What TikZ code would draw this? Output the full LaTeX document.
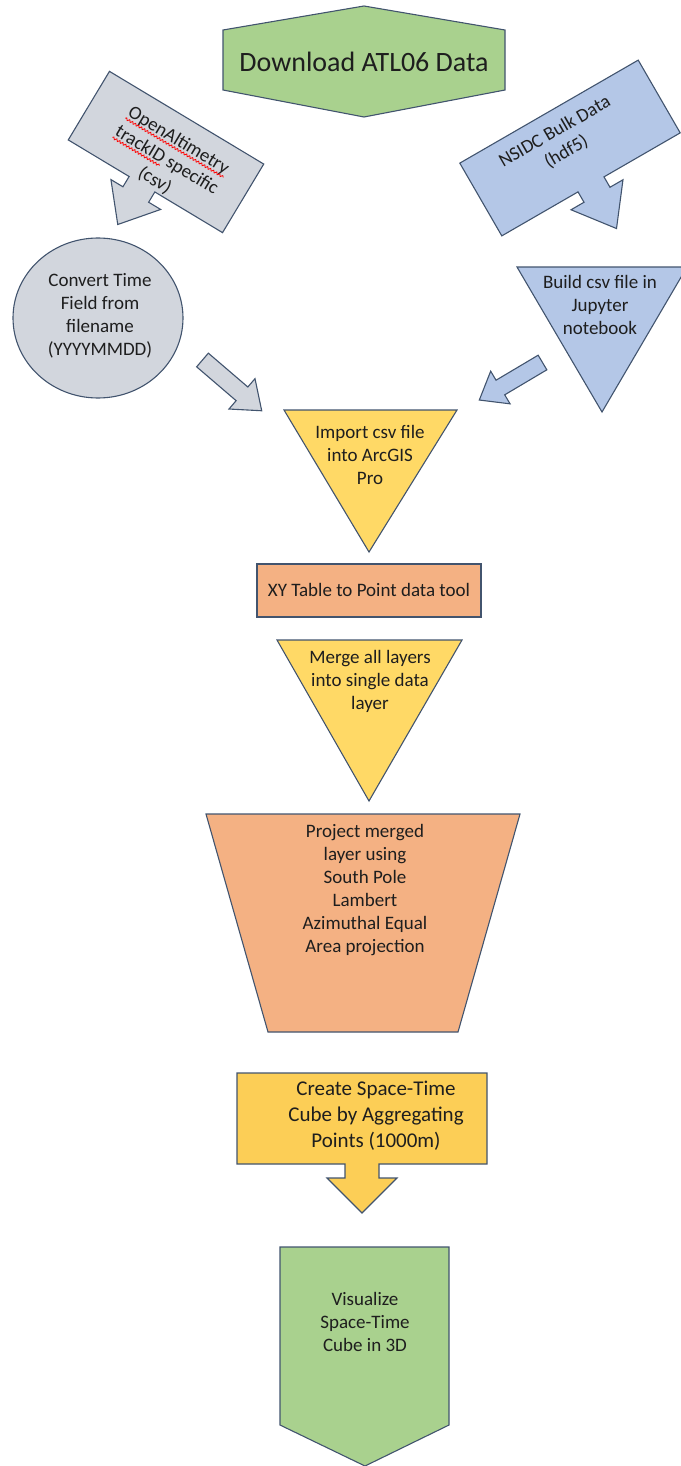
\documentclass[tikz,border=0pt]{standalone}
\usepackage{fontspec}
\setmainfont{Carlito}
\usetikzlibrary{calc, decorations.pathmorphing}
\definecolor{mint}{RGB}{169,209,142}
\definecolor{slate}{RGB}{210,214,221}
\definecolor{sky}{RGB}{180,199,231}
\definecolor{sun}{RGB}{255,217,102}
\definecolor{peach}{RGB}{244,177,131}
\definecolor{amber}{RGB}{252,206,86}
\definecolor{rim}{RGB}{66,84,110}
\definecolor{ink}{RGB}{30,30,30}
\tikzset{
  tile/.style={draw=rim, line width=1.1pt, line join=miter},
  words/.style={text=ink, align=center, inner sep=0pt, font=\fontsize{19}{23}\selectfont},
  spellcheck/.style={draw=red, line width=0.8pt, decorate,
    decoration={snake, amplitude=1.1pt, segment length=3.5pt}},
}

\begin{document}
\begin{tikzpicture}[x=1pt, y=1pt]

\useasboundingbox (0,0) rectangle (680,-1466);

% download
\filldraw[tile, fill=mint] (364,-6) -- (505,-30) -- (505,-90) -- (364,-117) -- (223,-90) -- (223,-30) -- cycle;
\node[words, font=\fontsize{28}{34}\selectfont] (dl) at (364,-62) {Download ATL06 Data};

% openaltimetry callout
\begin{scope}[shift={(166,-152)}, rotate=-31]
  \filldraw[tile, fill=slate] (-90,40) -- (90,40) -- (90,-40) -- (11,-40) -- (11,-52) -- (25,-52)
    -- (-4,-87) -- (-33,-52) -- (-19,-52) -- (-19,-40) -- (-90,-40) -- cycle;
  \node[words, rotate=-31] (oa1) at (5,16) {OpenAltimetry};
  \node[words, rotate=-31] (oa2) at (5,-7) {trackID specific};
  \node[words, rotate=-31] (oa3) at (5,-30) {(csv)};
  \draw[spellcheck] ($(oa1.base west)!3pt!-90:(oa1.base east)$) -- ($(oa1.base east)!3pt!90:(oa1.base west)$);
  \draw[spellcheck] ($(oa2.base west)!3pt!-90:(oa2.base east)$) -- ($($(oa2.base west)!0.47!(oa2.base east)$)!3pt!90:(oa2.base west)$);
\end{scope}

% nsidc callout
\begin{scope}[shift={(570,-148)}, rotate=30]
  \filldraw[tile, fill=sky] (-103,42) -- (103,42) -- (103,-42) -- (15,-42) -- (15,-54) -- (30,-54)
    -- (0,-93) -- (-30,-54) -- (-15,-54) -- (-15,-42) -- (-103,-42) -- cycle;
  \node[words, rotate=30] (nsidc) at (-5,10) {NSIDC Bulk Data\\(hdf5)};
\end{scope}

% convert
\filldraw[tile, fill=slate] (98,-318) ellipse [x radius=85, y radius=80];
\node[words] (conv) at (100,-316) {Convert Time\\Field from\\filename\\(YYYYMMDD)};

\begin{scope}[shift={(202.5,-360)}, rotate=-40.6]
  \filldraw[tile, fill=slate] (0,9) -- (52,9) -- (52,20) -- (78,0) -- (52,-20) -- (52,-9) -- (0,-9) -- cycle;
\end{scope}

% jupyter
\filldraw[tile, fill=sky] (517,-267) -- (687,-267) -- (602,-412) -- cycle;
\node[words] (build) at (600,-305) {Build csv file in\\Jupyter\\notebook};

\begin{scope}[shift={(542.5,-362.5)}, rotate=210.7]
  \filldraw[tile, fill=sky] (0,8.5) -- (49,8.5) -- (49,19) -- (73.5,0) -- (49,-19) -- (49,-8.5) -- (0,-8.5) -- cycle;
\end{scope}

% arcgis steps
\filldraw[tile, fill=sun] (284,-410) -- (457,-410) -- (369,-552) -- cycle;
\node[words] (imp) at (370,-455) {Import csv file\\into ArcGIS\\Pro};

\filldraw[tile, fill=peach] (257,-564) rectangle (481,-617);
\node[words] (xy) at (369,-590) {XY Table to Point data tool};

\filldraw[tile, fill=sun] (277,-640) -- (462,-640) -- (369,-801) -- cycle;
\node[words] (merge) at (370,-681) {Merge all layers\\into single data\\layer};

\filldraw[tile, fill=peach] (206,-814) -- (520,-814) -- (458,-1032) -- (268,-1032) -- cycle;
\node[words] (proj) at (365,-890) {Project merged\\layer using\\South Pole\\Lambert\\Azimuthal Equal\\Area projection};

% space-time cube
\filldraw[tile, fill=amber] (237,-1073) -- (487,-1073) -- (487,-1164) -- (379,-1164) -- (379,-1178) -- (397,-1178)
  -- (362,-1213) -- (327,-1178) -- (345,-1178) -- (345,-1164) -- (237,-1164) -- cycle;
\node[words, font=\fontsize{21}{26}\selectfont] (cube) at (376,-1116) {Create Space-Time\\Cube by Aggregating\\Points (1000m)};

\filldraw[tile, fill=mint] (280,-1247) -- (449,-1247) -- (449,-1425) -- (365,-1466) -- (280,-1425) -- cycle;
\node[words] (vis) at (365,-1322) {Visualize\\Space-Time\\Cube in 3D};

\end{tikzpicture}
\end{document}
